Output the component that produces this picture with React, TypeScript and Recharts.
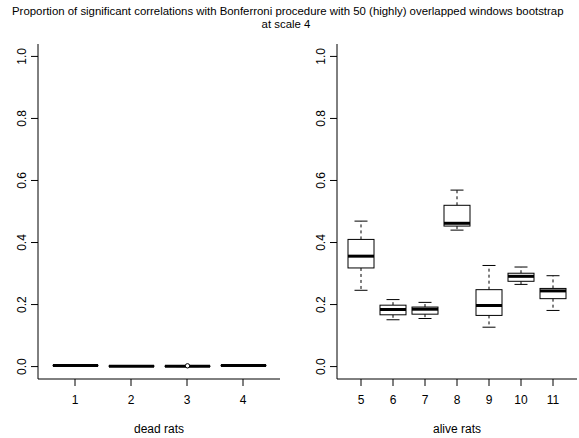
import React from 'react';
import { ComposedChart, Bar, XAxis, YAxis } from 'recharts';

const titleLine1 = 'Proportion of significant correlations with Bonferroni procedure with 50 (highly) overlapped windows bootstrap';
const titleLine2 = 'at scale 4';
const yTicks = [0, 0.2, 0.4, 0.6, 0.8, 1.0];

const deadRats = ['1', '2', '3', '4'];
const deadMin = [0.002, 0.0005, 0.0, 0.002];
const deadQ1 = [0.003, 0.001, 0.0005, 0.003];
const deadMed = [0.0035, 0.0015, 0.001, 0.0035];
const deadQ3 = [0.004, 0.002, 0.0015, 0.004];
const deadMax = [0.005, 0.0025, 0.002, 0.005];
const deadOut: number[][] = [[], [], [0.0025], []];

const aliveRats = ['5', '6', '7', '8', '9', '10', '11'];
const aliveMin = [0.246, 0.151, 0.155, 0.44, 0.127, 0.265, 0.181];
const aliveQ1 = [0.318, 0.167, 0.169, 0.453, 0.165, 0.275, 0.219];
const aliveMed = [0.356, 0.184, 0.185, 0.462, 0.197, 0.291, 0.244];
const aliveQ3 = [0.41, 0.198, 0.192, 0.52, 0.248, 0.301, 0.252];
const aliveMax = [0.469, 0.216, 0.207, 0.569, 0.326, 0.321, 0.293];
const aliveOut: number[][] = [[], [], [], [], [], [], []];

const build = (names: string[], mn: number[], q1: number[], md: number[], q3: number[], mx: number[], out: number[][]) =>
  names.map((name, i) => ({
    name,
    range: [mn[i], mx[i]],
    min: mn[i],
    q1: q1[i],
    med: md[i],
    q3: q3[i],
    max: mx[i],
    out: out[i],
  }));

const deadData = build(deadRats, deadMin, deadQ1, deadMed, deadQ3, deadMax, deadOut);
const aliveData = build(aliveRats, aliveMin, aliveQ1, aliveMed, aliveQ3, aliveMax, aliveOut);

const FONT = '"Liberation Sans", Arial, Helvetica, sans-serif';

const BoxShape = (props: any) => {
  const { x, y, width, height, payload } = props;
  if (!payload) return null;
  const { min, q1, med, q3, max, out } = payload;
  const top = Math.min(y, y + height);
  const bottom = Math.max(y, y + height);
  const span = max - min;
  const py = (v: number) => bottom - ((bottom - top) * (v - min)) / span;
  const cx = x + width / 2;
  const capHalf = width / 4;
  return (
    <g>
      <line x1={cx} x2={cx} y1={py(q3)} y2={py(max)} stroke="#000" strokeWidth={1} strokeDasharray="3 3" />
      <line x1={cx} x2={cx} y1={py(q1)} y2={py(min)} stroke="#000" strokeWidth={1} strokeDasharray="3 3" />
      <line x1={cx - capHalf} x2={cx + capHalf} y1={py(max)} y2={py(max)} stroke="#000" strokeWidth={1} />
      <line x1={cx - capHalf} x2={cx + capHalf} y1={py(min)} y2={py(min)} stroke="#000" strokeWidth={1} />
      <rect x={x} y={py(q3)} width={width} height={Math.max(py(q1) - py(q3), 0)} fill="#fff" stroke="#000" strokeWidth={1} />
      <line x1={x} x2={x + width} y1={py(med)} y2={py(med)} stroke="#000" strokeWidth={3} />
      {(out || []).map((o: number, k: number) => (
        <circle key={k} cx={cx} cy={py(o)} r={2.2} fill="#fff" stroke="#000" strokeWidth={1} />
      ))}
    </g>
  );
};

const YTick = (props: any) => {
  const { x, y, payload } = props;
  const bx = x - 3;
  return (
    <text
      x={bx}
      y={y}
      transform={`rotate(-90, ${bx}, ${y})`}
      textAnchor="middle"
      fontSize={12}
      fontFamily={FONT}
      fill="#000"
    >
      {Number(payload.value).toFixed(1)}
    </text>
  );
};

const XTick = (props: any) => {
  const { x, y, payload } = props;
  return (
    <text x={x} y={y + 16} textAnchor="middle" fontSize={12} fontFamily={FONT} fill="#000">
      {payload.value}
    </text>
  );
};

type PanelProps = {
  data: any[];
  left: number;
  right: number;
  pad: number;
  barSize: number;
};

const Panel = ({ data, left, right, pad, barSize }: PanelProps) => (
  <ComposedChart
    width={579}
    height={438}
    data={data}
    margin={{ top: 44, right: 579 - right, bottom: 0, left: left - 30 }}
    style={{ position: 'absolute', left: 0, top: 0 }}
  >
    <XAxis
      dataKey="name"
      type="category"
      padding={{ left: pad, right: pad }}
      height={59}
      tickSize={7}
      tickLine={{ stroke: '#000' }}
      axisLine={{ stroke: '#000' }}
      tick={<XTick />}
      interval={0}
    />
    <XAxis
      xAxisId="top"
      dataKey="name"
      orientation="top"
      height={0}
      tick={false}
      tickLine={false}
      axisLine={{ stroke: '#000' }}
    />
    <YAxis
      type="number"
      domain={[-0.04, 1.04]}
      ticks={yTicks}
      width={30}
      tickSize={7}
      tickLine={{ stroke: '#000' }}
      axisLine={{ stroke: '#000' }}
      tick={<YTick />}
      allowDataOverflow
    />
    <YAxis
      yAxisId="right"
      orientation="right"
      type="number"
      domain={[-0.04, 1.04]}
      width={0}
      tick={false}
      tickLine={false}
      axisLine={{ stroke: '#000' }}
    />
    <Bar dataKey="range" barSize={barSize} isAnimationActive={false} shape={<BoxShape />} />
  </ComposedChart>
);

export default function App() {
  return (
    <div style={{ position: 'absolute', left: 0, top: 0, width: 579, height: 438, background: '#fff', overflow: 'hidden' }}>
      <Panel data={deadData} left={38} right={280} pad={9} barSize={45} />
      <Panel data={aliveData} left={337} right={577} pad={8} barSize={26} />
      <svg width={579} height={438} style={{ position: 'absolute', left: 0, top: 0, pointerEvents: 'none' }}>
        <text x={12} y={15} fontSize={11.4} fontFamily={FONT} fill="#000">
          {titleLine1}
        </text>
        <text x={286} y={28} textAnchor="middle" fontSize={11.4} fontFamily={FONT} fill="#000">
          {titleLine2}
        </text>
        <text x={159} y={433} textAnchor="middle" fontSize={12} fontFamily={FONT} fill="#000">
          dead rats
        </text>
        <text x={457} y={433} textAnchor="middle" fontSize={12} fontFamily={FONT} fill="#000">
          alive rats
        </text>
      </svg>
    </div>
  );
}
